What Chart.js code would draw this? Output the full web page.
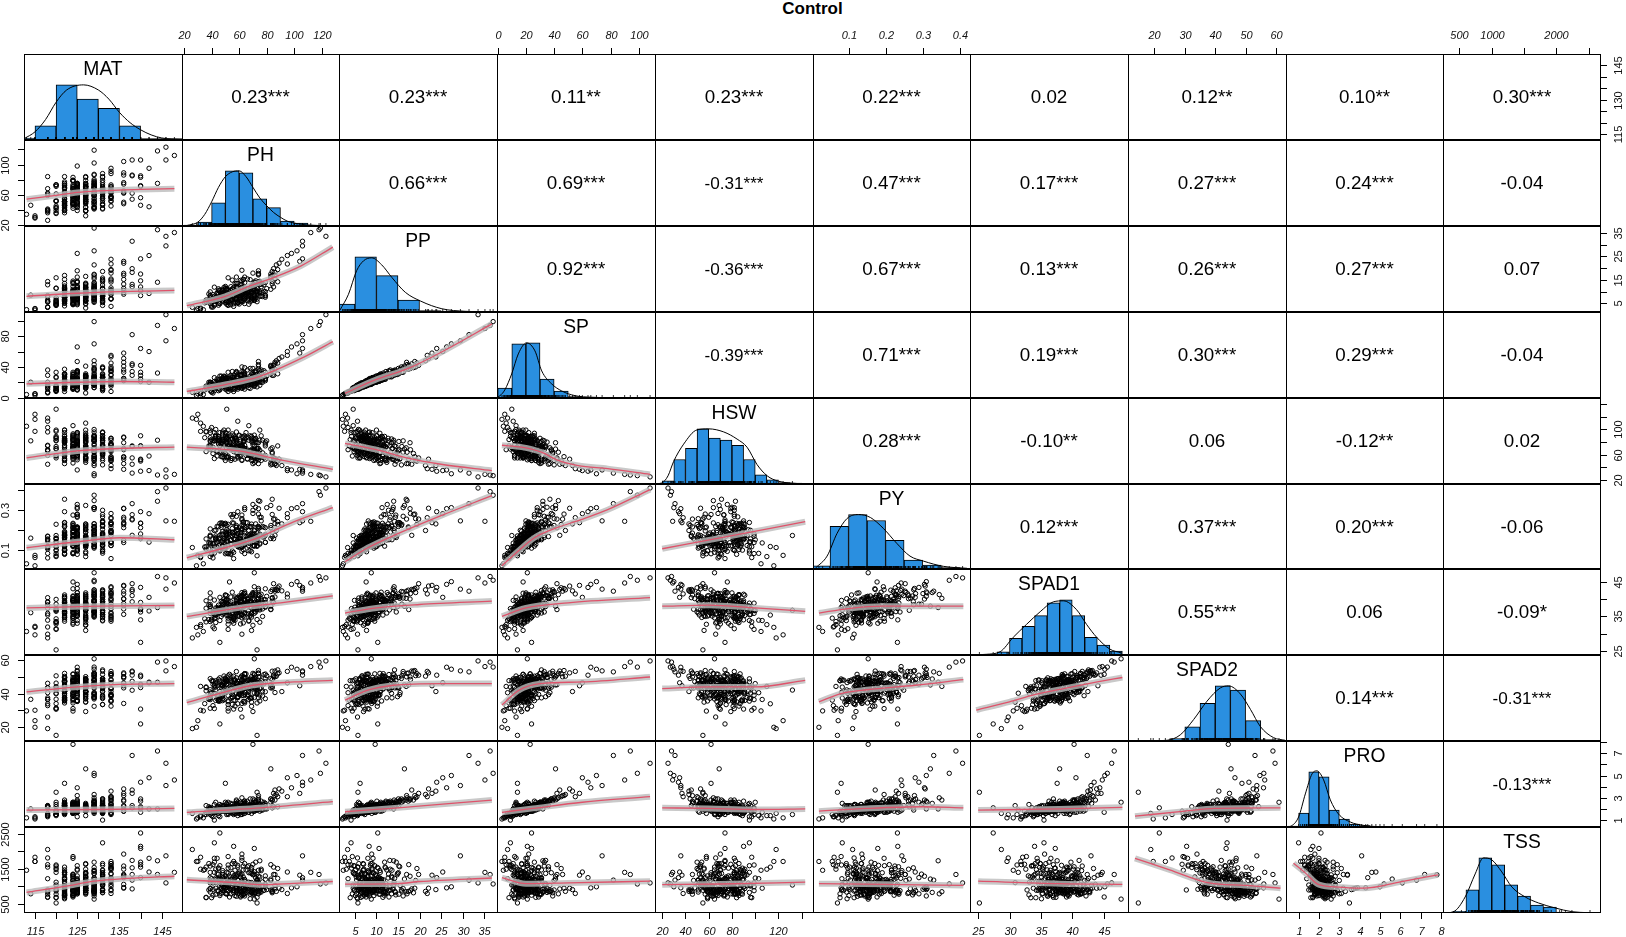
<!DOCTYPE html>
<html>
<head>
<meta charset="utf-8">
<script src="https://cdn.jsdelivr.net/npm/chart.js"></script>
<style>
  body { margin: 0; background: #fff; }
  #wrap { position: relative; width: 1626px; height: 937px; overflow: hidden; font-family: "Liberation Sans", Arial, sans-serif; }
  #title { position: absolute; left: 0; top: 0; width: 1625px; text-align: center; font-weight: bold; font-size: 17px; line-height: 18px; color: #000; }
  canvas { position: absolute; }
</style>
</head>
<body>
<div id="wrap"><div id="title">Control</div></div>
<script>
/* Переменные */
const vars = ['MAT', 'PH', 'PP', 'SP', 'HSW', 'PY', 'SPAD1', 'SPAD2', 'PRO', 'TSS'];

/* Наблюдения (выборка, оценена по облакам точек) */
const SP = [18,24,12,29,21,15,35,19,8,26, 22,41,16,27,31,23,13,20,45,17,
  7,27,19,33,14,24,28,11,58,20, 22,12,32,18,25,15,38,21,29,10,
  23,17,14,48,21,27,16,34,5,24, 19,28,15,74,22,17,26,11,33,20,
  25,16,40,12,21,30,18,24,4,19, 22,15,37,20,23,13,29,17,53,21,
  18,31,12,25,20,14,43,21,24,8, 19,27,20,90,16,30,22,13,36,18,
  24,14,39,22,17,28,32,10,20,99, 23,18,31,15,47,21,26,13,19,34,
  24,6,27,18,37,16,29,22,108,20, 26,11,32,21,15,66,25,19,29,16,
  23,9,35,20,41,14,24,3,21,14, 17,25,28,12,19,22,44,16,27,13,
  21,30,15,24,9,18,26,34,20,60, 14,23,19,27,11,36,17,22,25,18,
  28,16,20,42,13,24,21,82,15,26, 19,33,22,10,29,17,55,23,18,7,
  20,26,13,31,17,23,9,38,22,15, 27,19,34,11,24,18,46,21,16,29,
  12,22,30,17,25,6,20,33,14,64, 23,16,28,19,40,13,21,26,10,35,
  18,24,15,30,21,51,17,27,12,22, 25,14,20,37,19,28,11,23,32,16,
  21,17,29,8,24,19,42,15,26,20, 13,31,22,18,27,70,16,24,20,36,
  24,19,11,28,15,22,33,18,25,5, 17,39,21,14,26,23,19,30,12,94];
const PP = [7.9,10.8,5.6,11.2,9.6,5.8,13.9,8.5,3.9,11.9, 8.6,17.8,7.3,10.4,14.2,9.1,6.1,7.6,19.4,7.5,
  3.4,11.9,7.3,14.6,6.5,9.4,12.8,5.1,22.9,8.9, 9.8,4.6,12.5,8.2,11.4,6.7,15.1,8.0,13.3,4.6,
  10.3,6.6,6.3,21.4,8.6,12.2,6.2,13.1,2.6,10.9, 8.3,10.7,7.0,29.5,9.9,7.7,10.1,4.8,15.2,7.9,
  11.2,6.9,15.8,5.5,9.7,11.6,7.2,10.6,2.3,8.7, 8.4,6.8,16.9,9.0,9.6,5.4,12.9,6.5,23.8,9.3,
  7.4,13.6,5.3,10.0,9.2,5.9,17.1,9.8,9.5,3.7, 8.8,11.5,8.1,35.2,7.4,13.5,8.9,6.0,14.3,8.0,
  9.9,6.4,16.2,10.1,6.9,11.8,14.0,4.4,8.6,37.1, 9.3,7.9,12.4,6.6,18.9,8.3,11.4,5.8,8.4,14.9,
  10.6,3.0,11.0,7.6,15.5,6.8,12.1,9.5,33.6,9.1, 11.1,4.9,13.8,8.7,6.4,26.3,10.2,8.1,12.0,7.1,
  9.7,4.1,14.4,8.5,16.5,6.2,10.3,2.1,8.8,5.7, 7.8,10.4,11.3,5.0,8.0,9.2,18.2,6.6,11.6,5.6,
  9.4,12.7,6.5,10.0,4.2,7.7,11.7,14.1,8.3,25.4, 6.0,9.5,8.6,11.1,5.2,15.4,7.0,9.0,10.5,7.6,
  11.5,7.1,8.7,17.5,5.7,10.2,9.1,31.5,6.3,10.8, 8.2,13.9,9.4,4.8,12.4,7.3,21.8,9.6,7.7,3.3,
  9.5,9.2,6.6,11.0,8.4,8.1,4.8,17.9,7.6,7.2, 13.5,6.4,12.2,5.9,11.8,6.1,17.0,10.3,5.4,14.1,
  6.2,10.9,10.8,8.7,8.5,3.4,9.8,16.2,5.0,24.0, 11.4,5.5,13.6,7.0,19.1,4.6,10.6,9.0,5.2,12.9,
  8.9,8.2,7.6,14.8,7.3,22.1,8.1,13.0,4.4,10.8, 8.8,7.0,7.2,17.4,9.3,9.9,5.6,11.3,11.6,8.0,
  10.4,5.9,10.5,4.1,12.1,6.7,19.8,7.5,9.1,9.9, 4.7,15.2,7.9,9.0,9.6,27.4,7.9,8.4,10.0,13.2,
  11.9,6.6,5.7,10.1,7.4,7.7,15.9,8.8,9.0,2.8, 5.9,18.6,10.2,7.1,9.4,11.2,6.8,14.5,6.1,36.4];
const PH = [60,48,68,62,67,38,72,67,40,42, 73,74,61,54,88,55,54,43,88,52,
  40,71,39,72,64,50,70,46,104,58, 68,42,70,71,50,58,68,42,84,51,
  57,67,43,87,59,50,71,62,32,68, 60,46,63,106,53,68,64,56,63,77,
  51,57,83,36,73,64,47,71,34,62, 60,46,84,38,65,59,61,69,91,47,
  72,57,52,68,44,63,74,62,44,56, 51,73,76,112,44,59,62,39,84,56,
  66,48,64,73,57,49,75,54,51,119, 48,64,69,71,74,56,73,43,61,55,
  62,32,70,51,86,63,54,75,123,48, 55,64,64,64,36,98,73,55,85,58,
  70,42,75,46,83,50,46,29,71,73, 58,52,80,45,63,47,86,55,59,62,
  57,72,43,79,45,69,56,71,39,95, 60,56,68,55,50,66,70,65,48,53,
  68,64,50,83,36,69,61,106,71,51, 47,79,63,46,71,39,95,77,49,26,
  65,48,54,83,48,71,39,70,79,41, 58,69,58,55,62,39,86,73,51,74,
  62,51,70,41,79,41,58,58,59,106, 51,59,74,54,62,67,51,65,35,78,
  59,79,43,61,67,89,39,75,52,51, 62,41,71,74,52,47,59,66,58,75,
  45,61,64,52,76,49,85,49,73,39, 60,63,65,45,49,102,67,54,75,76,
  62,44,57,78,46,69,52,59,59,30, 48,84,61,43,69,45,73,62,51,118];
const HSW = [67,84,59,71,83,74,80,62,84,54, 79,79,70,51,74,72,68,89,50,88,
  103,63,83,50,82,51,82,86,37,72, 61,82,76,68,88,63,66,82,64,132,
  76,59,86,43,74,83,55,74,97,64, 91,63,65,36,80,67,90,65,68,63,
  70,88,44,97,66,75,57,74,105,71, 59,83,71,71,87,69,59,89,43,79,
  85,53,75,90,58,81,64,52,82,74, 78,59,90,29,65,79,70,87,45,77,
  64,93,64,54,86,64,83,71,79,27, 84,68,51,85,57,90,58,100,73,54,
  73,110,51,85,54,88,73,59,25,69, 85,70,70,67,96,36,70,85,52,96,
  62,95,60,82,69,62,74,116,65,55, 82,56,82,82,66,82,45,93,73,66,
  68,86,83,59,89,56,82,57,75,35, 90,69,59,75,95,53,79,95,57,76,
  60,85,91,53,65,81,67,31,83,94, 77,53,80,95,48,81,38,83,55,118,
  63,82,84,47,96,67,69,68,74,62, 85,68,72,69,74,99,46,70,88,52,
  76,87,46,82,80,68,78,82,69,34, 80,63,70,90,51,106,57,70,87,58,
  57,77,89,64,63,53,95,57,58,86, 74,72,91,46,84,64,113,54,72,67,
  85,64,70,99,51,81,55,99,61,74, 71,81,59,77,77,30,87,54,99,56,
  89,66,86,55,74,86,73,55,72,124, 61,62,81,91,59,89,69,73,55,28];
const PY = [.132,.178,.096,.203,.197,.104,.312,.121,.077,.118, .213,.305,.158,.127,.241,.206,.083,.198,.226,.193,
  .082,.155,.204,.161,.137,.108,.297,.101,.235,.122, .164,.098,.326,.118,.232,.124,.216,.196,.188,.171,
  .185,.095,.154,.196,.181,.189,.12,.249,.061,.13, .209,.172,.137,.244,.186,.143,.202,.087,.225,.164,
  .185,.13,.221,.115,.162,.19,.138,.179,.03,.115, .159,.125,.352,.135,.21,.116,.15,.173,.229,.212,
  .163,.15,.118,.213,.138,.101,.345,.114,.217,.056, .18,.156,.244,.242,.114,.29,.136,.132,.166,.179,
  .164,.121,.31,.117,.171,.153,.342,.077,.176,.372, .232,.123,.216,.122,.278,.233,.134,.15,.143,.234,
  .185,.066,.175,.148,.23,.123,.275,.133,.408,.118, .264,.081,.301,.134,.154,.305,.154,.185,.155,.197,
  .153,.083,.262,.158,.321,.08,.232,.02,.153,.07, .17,.139,.31,.097,.135,.223,.172,.171,.199,.115,
  .153,.229,.16,.137,.098,.09,.276,.194,.168,.28, .155,.156,.156,.188,.115,.235,.12,.236,.147,.177,
  .178,.126,.228,.21,.103,.165,.186,.33,.141,.2, .178,.171,.239,.094,.149,.173,.26,.216,.105,.111,
  .149,.191,.147,.156,.14,.195,.066,.281,.137,.131, .221,.158,.211,.094,.223,.167,.253,.151,.158,.206,
  .092,.22,.183,.128,.21,.059,.135,.267,.121,.29, .172,.141,.216,.15,.255,.134,.142,.152,.114,.213,
  .133,.176,.157,.173,.175,.307,.139,.21,.08,.184, .204,.101,.156,.214,.162,.234,.116,.153,.213,.128,
  .156,.14,.213,.081,.169,.156,.253,.136,.184,.128, .112,.236,.166,.121,.228,.31,.17,.129,.178,.262,
  .198,.148,.133,.164,.099,.228,.227,.129,.181,.072, .119,.276,.149,.169,.148,.215,.121,.273,.083,.39];
const MAT = [124,129,122,127,133,118,125,131,122,129, 125,136,120,127,131,124,122,129,133,124,
  118,127,125,140,122,129,131,122,136,124, 127,120,125,129,136,122,131,124,127,120,
  133,125,120,129,131,124,127,138,115,125, 129,122,133,146,127,118,131,124,136,122,
  129,125,131,120,127,133,124,140,113,129, 125,131,122,127,136,124,118,129,133,125,
  122,127,131,124,142,125,129,122,127,133, 125,120,131,148,129,122,136,127,118,125,
  131,124,129,122,133,127,144,125,122,129, 124,131,122,127,125,140,120,129,124,133,
  125,127,131,122,129,124,138,125,146,127, 131,124,129,133,118,125,127,122,140,129,
  124,131,125,114,127,122,140,115,129,120, 127,133,129,122,124,131,138,125,127,118,
  124,129,122,131,120,127,125,133,118,142, 122,127,124,129,125,133,127,131,136,124,
  131,125,127,140,122,129,124,138,120,127, 129,124,131,125,127,122,133,129,125,118,
  127,122,129,124,131,125,120,133,127,122, 124,129,125,131,122,127,136,124,129,125,
  131,127,122,129,124,118,133,125,127,140, 122,125,129,127,133,124,122,131,120,129,
  129,124,127,131,125,136,122,127,124,133, 125,131,124,129,127,122,118,131,125,127,
  124,127,133,120,129,125,138,122,131,127, 127,122,125,133,124,129,131,127,122,136,
  129,125,131,124,122,127,120,129,125,115, 124,131,127,125,129,122,133,124,127,144];
const SPAD1 = [37.5,39.2,35.1,40.8,33.6,38.4,41.9,36.7,34.2,39.8, 38.9,40.1,32.8,37.1,42.6,36.0,38.1,35.5,43.4,39.6,
  33.9,37.8,40.4,36.3,34.8,41.3,38.6,36.9,44.1,35.7, 39.0,31.4,42.0,37.4,38.2,36.1,40.9,34.4,39.5,36.8,
  37.9,40.2,33.2,42.8,38.3,39.7,35.9,41.1,32.1,37.6, 36.4,40.6,38.7,43.0,35.3,39.3,38.0,34.6,41.6,37.2,
  39.9,36.5,42.3,33.4,38.5,40.0,35.0,37.3,30.6,39.4, 41.0,36.2,40.3,34.1,38.8,37.0,39.1,35.8,42.5,37.7,
  38.2,40.7,33.7,39.6,36.6,38.0,41.4,35.4,37.5,34.5, 39.8,37.0,41.5,44.8,36.3,38.6,35.6,37.8,40.5,33.0,
  39.2,36.9,42.2,38.4,34.9,40.1,37.6,35.2,39.0,45.6, 37.3,41.8,36.0,38.9,43.2,34.0,40.0,36.7,39.5,37.9,
  36.4,32.6,41.2,38.1,40.7,35.1,39.3,37.2,46.3,38.6, 36.8,39.7,41.7,35.8,37.4,44.4,38.3,33.6,39.1,37.0,
  40.3,35.5,41.1,36.1,38.0,37.6,27.4,31.8,47.8,25.2, 38.6,35.2,40.9,37.7,33.1,39.4,42.9,36.2,38.8,29.8,
  36.9,41.4,34.7,39.9,37.3,30.9,38.4,43.7,35.9,40.6, 39.1,34.3,37.8,42.1,36.6,40.3,32.4,38.9,37.2,45.1,
  35.4,38.7,41.2,37.0,39.6,34.8,40.8,42.4,36.5,38.1, 37.6,43.1,36.3,33.8,40.2,38.5,41.6,35.0,39.3,28.7,
  38.3,36.4,40.7,37.1,35.6,39.8,33.5,41.7,37.9,36.0, 40.1,37.4,38.8,34.9,39.3,36.7,42.4,38.1,35.3,39.0,
  34.6,38.9,41.3,36.2,37.7,31.9,39.6,40.4,36.8,43.5, 37.0,35.1,39.4,38.6,42.0,33.8,36.5,40.9,34.3,38.4,
  36.6,39.1,37.5,40.6,35.8,43.9,38.0,36.9,32.7,41.1, 39.5,36.3,38.2,42.7,34.5,37.8,35.4,40.0,38.7,33.3,
  37.3,40.4,36.1,31.2,39.7,38.5,44.6,35.9,37.6,41.9, 35.0,40.8,38.4,37.2,36.4,45.2,39.3,34.7,38.9,40.2,
  38.1,35.7,33.9,39.9,37.4,41.4,38.6,36.3,40.5,29.6, 36.2,42.8,37.7,35.3,39.2,38.3,34.1,41.0,36.9,46.7];
const SPAD2 = [44.7,39.3,46.6,44.7,43.2,36.5,49.7,39.0,47.8,44.8, 40.0,50.1,30.5,43.4,54.3,39.4,37.3,43.9,52.0,35.6,
  40.5,49.0,42.3,45.7,34.3,48.2,48.7,41.2,44.7,44.1, 37.1,40.2,48.8,37.6,49.4,49.5,43.8,30.9,48.5,42.1,
  48.1,42.2,39.9,50.5,37.5,46.7,48.3,42.0,29.9,48.8, 39.7,49.5,38.8,53.7,41.8,37.4,46.2,48.1,43.4,41.5,
  47.9,35.8,49.1,44.0,39.6,52.0,38.5,43.6,29.5,48.4, 40.9,47.6,44.3,36.7,51.9,38.3,46.2,45.2,41.2,43.9,
  47.4,43.6,33.3,47.6,46.9,35.2,52.2,39.8,44.7,36.0, 45.8,46.3,43.3,56.3,36.7,45.7,34.0,49.0,43.4,41.7,
  38.3,45.2,52.0,41.5,32.4,46.1,46.8,47.7,41.1,56.0, 44.6,51.6,37.4,47.0,53.9,30.6,44.0,46.0,45.5,38.1,
  38.7,44.3,44.1,47.3,40.6,42.6,47.4,35.5,59.7,44.7, 47.1,40.7,49.5,35.2,43.6,55.9,40.5,41.2,50.2,40.3,
  44.3,43.9,50.0,36.5,45.2,48.8,21.6,19.6,61.0,14.7, 46.7,38.7,50.8,35.9,42.8,45.4,53.6,37.6,45.9,25.8,
  48.2,43.2,42.2,48.9,36.6,34.8,50.5,51.3,36.3,46.5, 40.2,44.8,44.0,44.9,48.9,39.3,29.1,47.0,46.5,51.6,
  42.8,49.8,41.1,45.3,41.6,32.3,49.7,53.1,42.8,41.3, 39.8,51.8,46.6,35.4,47.2,37.6,53.4,38.5,47.4,18.8,
  46.5,35.7,50.6,43.4,37.0,51.8,31.1,48.5,41.1,47.4, 40.1,46.6,45.9,33.4,50.4,41.0,50.1,34.3,45.8,46.1,
  41.1,41.0,52.2,45.6,36.9,32.7,46.6,53.3,38.1,51.1, 47.3,42.6,37.4,44.7,50.8,36.4,47.8,43.8,33.9,51.5,
  37.9,47.2,47.7,43.5,48.2,52.5,37.2,43.2,29.4,43.0, 46.5,47.7,40.4,52.4,35.0,45.0,33.8,48.0,42.8,43.0,
  48.6,41.3,39.5,31.1,47.7,50.6,51.1,36.3,46.8,38.7, 39.5,49.7,49.5,35.5,43.7,54.7,41.4,48.2,39.0,46.2,
  46.3,39.1,44.5,45.9,36.6,50.2,50.7,37.7,47.4,23.6, 38.6,53.5,43.9,35.8,48.3,35.5,42.7,47.9,48.2,59.0];
const PRO = [2.1,1.8,2.3,2.0,1.7,2.2,2.6,1.9,1.6,2.4, 2.0,2.8,1.5,2.1,2.2,1.8,2.5,1.9,3.1,2.0,
  1.4,2.3,1.7,2.7,2.1,1.8,2.4,2.0,3.4,1.6, 2.2,1.9,2.5,1.8,2.0,2.3,2.9,1.7,2.1,1.5,
  2.0,2.2,1.8,3.3,1.9,2.6,2.0,2.3,1.3,2.1, 1.8,2.4,1.6,4.1,2.0,2.2,2.7,1.9,2.3,2.0,
  1.8,2.1,2.9,1.7,2.2,2.5,1.9,2.0,1.2,2.3, 2.1,1.7,2.8,2.0,1.8,2.4,2.2,1.6,3.6,2.0,
  1.9,2.5,1.8,2.1,2.0,2.3,3.0,1.7,2.2,1.5, 2.0,2.4,1.9,4.6,2.1,2.6,1.8,2.0,2.3,1.7,
  2.1,1.9,2.7,2.4,1.6,2.2,2.0,1.8,2.5,5.2, 2.0,1.8,2.3,2.1,3.2,1.7,2.2,2.6,1.9,2.4,
  2.0,1.4,2.3,2.1,2.8,1.8,2.1,2.4,6.1,2.0, 2.2,1.6,2.5,2.0,2.3,3.9,1.9,2.1,2.2,1.8,
  7.8,1.0,2.4,2.0,5.6,4.3,2.1,1.1,2.6,3.5, 1.9,2.2,2.0,1.6,2.4,1.8,3.7,2.1,2.3,1.5,
  2.2,2.6,1.7,2.0,1.4,2.3,1.9,2.8,2.1,4.8, 1.6,2.1,2.4,1.9,2.0,2.7,1.8,2.5,2.2,1.7,
  2.3,1.9,2.0,2.9,1.5,2.2,2.1,6.8,1.8,2.4, 2.0,2.5,1.8,1.3,2.2,2.0,3.1,1.9,2.3,1.6,
  2.0,2.3,1.7,2.6,1.9,2.2,1.5,2.9,2.1,1.8, 2.4,1.9,2.7,1.6,2.2,2.0,3.2,2.1,1.8,2.5,
  1.7,2.2,2.5,1.9,2.3,1.3,2.0,2.8,1.8,4.4, 2.1,1.8,2.4,2.0,3.0,1.7,2.2,2.3,1.5,2.6,
  1.9,2.3,1.8,2.6,2.0,3.8,2.1,2.4,1.6,2.2, 2.2,1.7,2.0,2.7,1.9,2.3,1.4,2.1,2.5,1.8,
  2.0,1.9,2.4,1.5,2.2,2.0,3.4,1.8,2.3,2.1, 1.8,2.6,2.1,1.9,2.3,5.0,2.0,2.2,2.1,2.7,
  2.3,1.8,1.6,2.4,1.9,2.1,2.6,2.0,2.2,1.2, 1.9,2.8,2.1,1.7,2.3,2.2,1.9,2.5,1.8,7.2];
const TSS = [870,1450,650,1120,1590,900,940,1390,680,1690, 1030,1290,900,1190,1230,1080,920,1190,1510,1020,
  1220,830,1160,1690,920,1050,1350,740,1320,970, 1020,1400,830,1420,1060,720,1390,1800,900,1040,
  1240,840,1120,860,1600,800,1030,1740,1830,860, 940,1020,1470,1870,940,780,1200,890,1580,1020,
  1110,1460,900,680,1200,1190,950,2080,1460,870, 880,1200,850,1650,970,1180,700,1370,910,1060,
  820,1250,1270,1000,1800,970,790,1350,870,1710, 1100,690,1450,1400,1360,790,1920,940,860,1300,
  1090,1330,730,1100,1650,940,1730,790,1210,1070, 890,1050,1470,810,950,2140,930,1240,730,1370,
  1070,1490,900,1020,1030,1270,1530,920,1100,890, 1210,900,920,1650,690,960,1120,1150,1550,1010,
  1330,2240,830,790,1210,960,2520,1710,640,530, 890,1520,910,1350,760,1200,930,1020,1060,1810,
  740,1240,950,1300,1520,1110,820,1060,840,1410, 1410,890,1100,970,1040,1560,1630,830,1250,700,
  1050,790,1300,1620,1550,1540,840,1180,780,1090, 940,1040,880,1590,960,1250,800,1130,1180,2050,
  880,1390,900,1170,1040,920,1580,880,1200,750, 1290,840,1080,1650,750,1100,1340,1170,800,1120,
  1100,1400,780,1100,970,1620,1000,940,1350,1250, 980,890,1460,980,1170,950,780,1470,1480,890,
  1070,1060,780,1330,990,950,1400,980,1850,1240, 1110,920,1350,860,1380,810,1550,1020,850,1270,
  880,1270,1140,1610,840,980,1340,990,1170,940, 1370,780,980,1520,880,990,1120,1150,880,1490,
  870,1220,1320,890,1230,820,870,1190,1180,1710, 1240,820,1020,1490,850,1200,1350,760,1060,1340];
const cols = [MAT, PH, PP, SP, HSW, PY, SPAD1, SPAD2, PRO, TSS];

/* Пределы осей и деления */
const axisMin = [112.4, 18.5, 1.3, -0.5, 13.8, 0.004, 23.7, 11.3, 0.38, 245];
const axisMax = [149.8, 132.5, 38, 111.5, 149.7, 0.428, 48.9, 63.3, 8.1, 2690];
const tickVals = [[115,120,125,130,135,140,145], [20,40,60,80,100,120], [5,10,15,20,25,30,35], [0,20,40,60,80,100],
  [20,40,60,80,100,120,140], [0.1,0.2,0.3,0.4], [25,30,35,40,45], [20,30,40,50,60], [1,2,3,4,5,6,7,8], [500,1000,1500,2000,2500]];
const labelsH = [[115,125,135,145], [20,40,60,80,100,120], [5,10,15,20,25,30,35], [0,20,40,60,80,100],
  [20,40,60,80,120], [0.1,0.2,0.3,0.4], [25,30,35,40,45], [20,30,40,50,60], [1,2,3,4,5,6,7,8], [500,1000,2000]];
const labelsV = [[115,130,145], [20,60,100], [5,15,25,35], [0,40,80], [20,60,100], [0.1,0.3], [25,35,45], [20,40,60], [1,3,5,7], [500,1500,2500]];

/* Коэффициенты корреляции (верхний треугольник) */
const corrRows = [
  ['0.23***','0.23***','0.11**','0.23***','0.22***','0.02','0.12**','0.10**','0.30***'],
  ['0.66***','0.69***','-0.31***','0.47***','0.17***','0.27***','0.24***','-0.04'],
  ['0.92***','-0.36***','0.67***','0.13***','0.26***','0.27***','0.07'],
  ['-0.39***','0.71***','0.19***','0.30***','0.29***','-0.04'],
  ['0.28***','-0.10**','0.06','-0.12**','0.02'],
  ['0.12***','0.37***','0.20***','-0.06'],
  ['0.55***','0.06','-0.09*'],
  ['0.14***','-0.31***'],
  ['-0.13***']
];

/* Гистограммы: границы и высоты столбцов */
const MAT_breaks = [110,115,120,125,130,135,140,145,150];
const MAT_hist = [2,14,54,40,31,14,1.5,1.5];
const PH_breaks = [20,30,40,50,60,70,80,90,100,110,120];
const PH_hist = [1,4,24,57,55,28,19,5,3,1];
const PP_breaks = [0,5,10,15,20,25,30,35,40];
const PP_hist = [8,56,37,12,1.5,1,0.5,0.3];
const SP_breaks = [0,10,20,30,40,50,60,70,80,90,100,110];
const SP_hist = [10,54,55,19,7,1.5,1,0.7,0.5,0.4,0.3];
const HSW_breaks = [10,20,30,40,50,60,70,80,90,100,110,120,130,140,150];
const HSW_hist = [0.5,3,24,35,54,45,43,38,24,9,4,1.5,1,0.5];
const PY_breaks = [0,0.05,0.1,0.15,0.2,0.25,0.3,0.35,0.4,0.45];
const PY_hist = [3.3,43,55,49,29,9,4,1.5,0.7];
const SPAD1_breaks = [24,26,28,30,32,34,36,38,40,42,44,46,48];
const SPAD1_hist = [0.3,0.5,3.3,17,29,40,53,56,40,18,10,4];
const SPAD2_breaks = [10,15,20,25,30,35,40,45,50,55,60,65];
const SPAD2_hist = [0.4,0.4,0.4,2.3,14,37,54,50,20,1.3,0.3];
const PRO_breaks = [0.5,1,1.5,2,2.5,3,3.5,4,4.5,5,5.5,6,6.5,7,7.5,8];
const PRO_hist = [1,14,55,50,17,8,3,1.5,0.7,0.4,0.3,0.2,0.2,0.2,0.2];
const TSS_breaks = [400,600,800,1000,1200,1400,1600,1800,2000,2200,2400,2600];
const TSS_hist = [1.7,23,55,48,28,17,8,6,1,0.5,0.3];
const histBreaks = [MAT_breaks, PH_breaks, PP_breaks, SP_breaks, HSW_breaks, PY_breaks, SPAD1_breaks, SPAD2_breaks, PRO_breaks, TSS_breaks];
const histHeights = [MAT_hist, PH_hist, PP_hist, SP_hist, HSW_hist, PY_hist, SPAD1_hist, SPAD2_hist, PRO_hist, TSS_hist];

/* Кривые плотности */
const MAT_dens = [[112.5,1.5],[115,8],[117.5,20],[120,37],[122.5,49],[126.5,54],[130,49],[132.5,40],[135,27],[137.5,17],[140,10],[142.5,5],[145,2],[149.8,0.3]];
const PH_dens = [[22,0.5],[30,4],[35,12],[40,25],[45,40],[50,51],[55,56],[60,57],[65,51],[70,40],[75,29],[80,21],[85,14],[90,9],[95,5],[100,3],[110,1],[125,0.2]];
const PP_dens = [[1.5,1.7],[3.5,18],[5.4,42],[7,52],[8.9,55],[11.2,48],[13.6,35],[16.7,20],[20.3,11],[25.2,3.3],[30.6,0.7],[37,0.1]];
const SP_dens = [[0,1],[1.6,2.3],[5,8],[9.9,24],[14.6,44],[20.5,55],[26.4,47],[31.2,27],[38.3,14],[45.4,7],[54.9,2.3],[66.8,0.7],[90,0.1]];
const HSW_dens = [[15,0.3],[19.7,1],[25,8],[29.8,22],[38.4,39],[49.9,53],[60,54],[72.9,51],[84.4,44],[93,36],[101.6,19],[110.3,8],[120,2.7],[138,0.3]];
const PY_dens = [[0.011,1],[0.042,13],[0.069,36],[0.096,51],[0.127,55],[0.159,52],[0.194,41],[0.23,26],[0.266,13],[0.302,8],[0.356,2.7],[0.42,0.7]];
const SPAD1_dens = [[24,0.1],[26.3,0.7],[28.5,3.3],[30.6,18],[32.7,31],[34.9,44],[37,54],[38.6,55],[40.7,46],[42.3,31],[43.9,18],[46,6],[47.9,2]];
const SPAD2_dens = [[12,0.2],[20,0.3],[24.1,0.7],[28.5,6],[32.9,21],[37.3,39],[41.7,52],[44.4,54],[48.3,46],[51.6,31],[54.9,14],[59.2,3.3],[63,0.7]];
const PRO_dens = [[0.4,0],[0.6,0.7],[1.0,10],[1.33,33],[1.66,53],[1.9,56],[2.23,47],[2.56,27],[2.96,13],[3.54,5],[4.17,1.7],[5.1,0.3],[8,0]];
const TSS_dens = [[250,0],[407,1.3],[588,16],[743,39],[871,55],[1000,53],[1155,41],[1310,26],[1517,16],[1723,10],[1982,5],[2240,1.3],[2500,0.3]];
const densLines = [MAT_dens, PH_dens, PP_dens, SP_dens, HSW_dens, PY_dens, SPAD1_dens, SPAD2_dens, PRO_dens, TSS_dens];

/* Сглаживание (loess), по строкам: для каждого столбца слева от диагонали */
const loPH = [
  [[113,54],[120,59],[125,63],[130,65],[140,67],[148,68]]
];
const loPP = [
  [[113,8],[125,9.3],[135,10],[148,10.5]],
  [[22,4],[50,8],[66,12],[85,16],[105,21],[128,29]]
];
const loSP = [
  [[113,18],[125,20],[135,21],[148,20]],
  [[22,8],[50,17],[74,27],[105,51],[128,73]],
  [[2.7,5.6],[9.7,23],[17.4,38],[26,62],[36.8,96]]
];
const loHSW = [
  [[113,55],[125,66],[135,70],[148,72]],
  [[22,72],[60,66],[90,52],[128,37]],
  [[2.7,78],[10,68],[17,55],[25,45],[36.8,35]],
  [[3,75],[17,72],[31,64],[43,51],[57,43],[78,38],[108,29]]
];
const loPY = [
  [[113,0.11],[125,0.14],[135,0.16],[148,0.15]],
  [[22,0.06],[50,0.11],[70,0.15],[100,0.24],[128,0.31]],
  [[2.7,0.04],[8,0.11],[15,0.18],[25,0.27],[36.8,0.37]],
  [[3,0.02],[14,0.09],[26,0.16],[42,0.21],[59,0.25],[78,0.30],[108,0.40]],
  [[20,0.105],[80,0.17],[143,0.24]]
];
const loSPAD1 = [
  [[113,37.5],[130,38],[148,38.2]],
  [[22,35],[60,37.5],[90,39],[128,41]],
  [[2.7,36],[10,37.5],[20,38.5],[36.8,39.5]],
  [[3,35],[20,37.5],[50,39],[108,40.5]],
  [[20,38],[60,38.3],[100,37.5],[143,36.5]],
  [[0.02,36],[0.1,37.3],[0.19,38],[0.41,38]]
];
const loSPAD2 = [
  [[113,41],[125,44],[135,45.5],[148,46]],
  [[22,34.5],[50,41],[70,45],[100,47],[128,48]],
  [[2.7,36],[8,42],[14,45],[25,46],[36.8,46]],
  [[3,33],[15,42],[30,46],[60,47],[108,50]],
  [[20,43],[60,44],[100,44],[143,48]],
  [[0.02,35],[0.08,40],[0.15,42.3],[0.28,45],[0.41,48.4]],
  [[24.7,30],[30,35],[34,39.3],[39,43.3],[44,47],[48,49.7]]
];
const loPRO = [
  [[113,1.9],[130,1.95],[148,2.05]],
  [[22,1.7],[75,2.1],[128,2.65]],
  [[2.7,1.75],[15,2.1],[36.8,2.8]],
  [[3,1.7],[25,2.05],[60,2.6],[108,3.1]],
  [[20,2.1],[60,2.05],[100,1.95],[143,2.0]],
  [[0.02,1.8],[0.15,2.05],[0.3,2.2],[0.41,2.1]],
  [[25,1.9],[38,2.0],[48,2.15]],
  [[13.6,1.35],[30,1.8],[40,2.05],[61.5,2.1]]
];
const loTSS = [
  [[113,830],[122,1000],[129,1150],[137,1230],[148,1290]],
  [[22,1190],[60,1100],[75,1050],[100,1090],[128,1140]],
  [[2.7,1065],[15,1080],[20,1140],[36.8,1240]],
  [[3,1250],[20,1080],[50,1100],[108,1150]],
  [[20,1050],[70,1070],[143,1120]],
  [[0.02,1080],[0.2,1060],[0.41,1030]],
  [[25,1150],[38,1080],[48,1060]],
  [[13.6,1800],[25,1470],[38,1100],[50,1030],[61.5,950]],
  [[0.75,1660],[1.3,1400],[2,1050],[3,980],[4.2,950],[6,1130],[7.85,1330]]
];
const smoothRows = [null, loPH, loPP, loSP, loHSW, loPY, loSPAD1, loSPAD2, loPRO, loTSS];

const FONT = '"Liberation Sans", Arial, sans-serif';
const histColor = '#2A8FE0';
const loessColor = '#DF536B';

/* Сетка панелей */
const wrap = document.getElementById('wrap');
const X = [], Y = [];
for (let k = 0; k <= 10; k++) {
  X.push(Math.round(24 + k * 157.7));
  Y.push(Math.round(54 + k * 85.9));
}

function toXY(pairs) {
  return pairs.map(p => ({ x: p[0], y: p[1] }));
}

// рамка, оси, подписи
const panelPlugin = {
  id: 'panel',
  afterDraw(chart, args, o) {
    const ctx = chart.ctx, a = chart.chartArea;
    const r = o.r, c = o.c, side = o.side;
    ctx.save();
    ctx.strokeStyle = '#000';
    ctx.lineWidth = 1;
    ctx.beginPath();
    ctx.moveTo(a.left, a.top + 0.5); ctx.lineTo(a.right, a.top + 0.5);
    ctx.moveTo(a.left, a.bottom - 0.5); ctx.lineTo(a.right, a.bottom - 0.5);
    ctx.moveTo(a.left + 0.5, a.top); ctx.lineTo(a.left + 0.5, a.bottom);
    if (c === 9) { ctx.moveTo(a.right - 0.5, a.top); ctx.lineTo(a.right - 0.5, a.bottom); }
    ctx.stroke();

    ctx.fillStyle = '#111';
    if (side.top || side.bottom) {
      const xs = chart.scales.x;
      const y0 = side.top ? a.top : a.bottom;
      const dir = side.top ? -1 : 1;
      ctx.font = 'italic 11px ' + FONT;
      ctx.textAlign = 'center';
      ctx.textBaseline = 'middle';
      tickVals[c].forEach(v => {
        const px = Math.round(xs.getPixelForValue(v)) + 0.5;
        ctx.beginPath(); ctx.moveTo(px, y0); ctx.lineTo(px, y0 + dir * 6); ctx.stroke();
        if (labelsH[c].includes(v)) ctx.fillText(String(v), px, y0 + dir * (side.top ? 18 : 19));
      });
    }
    if (side.left || side.right) {
      const ys = chart.scales.y;
      const x0 = side.left ? a.left : a.right;
      const dir = side.left ? -1 : 1;
      ctx.font = '11px ' + FONT;
      ctx.textAlign = 'center';
      ctx.textBaseline = 'middle';
      tickVals[r].forEach(v => {
        const py = Math.round(ys.getPixelForValue(v)) + 0.5;
        ctx.beginPath(); ctx.moveTo(x0, py); ctx.lineTo(x0 + dir * 6, py); ctx.stroke();
        if (labelsV[r].includes(v)) {
          ctx.save();
          ctx.translate(x0 + dir * 18, py);
          ctx.rotate(-Math.PI / 2);
          ctx.fillText(String(v), 0, 0);
          ctx.restore();
        }
      });
    }

    ctx.fillStyle = '#000';
    ctx.textAlign = 'center';
    ctx.textBaseline = 'middle';
    const cx = (a.left + a.right) / 2;
    if (r === c) {
      ctx.font = '19.3px ' + FONT;
      ctx.fillText(vars[r], cx, a.top + 16);
    } else if (r < c) {
      const t = corrRows[r][c - r - 1];
      let fs = 18.8;
      ctx.font = fs + 'px ' + FONT;
      const wd = ctx.measureText(t).width;
      if (wd > 59) { fs = fs * 59 / wd; ctx.font = fs + 'px ' + FONT; }
      ctx.fillText(t, cx, (a.top + a.bottom) / 2 + 1);
    }
    ctx.restore();
  }
};

for (let r = 0; r < 10; r++) {
  for (let c = 0; c < 10; c++) {
    const side = {
      top: r === 0 && c % 2 === 1,
      bottom: r === 9 && c % 2 === 0,
      left: c === 0 && r % 2 === 1,
      right: c === 9 && r % 2 === 0
    };
    // место под подписи осей за пределами панели
    const horiz = side.top || side.bottom, vert = side.left || side.right;
    const pad = {
      top: side.top ? 30 : (vert ? 10 : 0),
      bottom: side.bottom ? 24 : (vert ? 10 : 0),
      left: side.left ? 24 : (horiz ? 12 : 0),
      right: side.right ? 25 : (horiz ? 12 : 0)
    };
    const w = X[c + 1] - X[c], h = Y[r + 1] - Y[r];
    const cw = w + pad.left + pad.right, ch = h + pad.top + pad.bottom;
    const cv = document.createElement('canvas');
    cv.width = cw; cv.height = ch;
    cv.style.left = (X[c] - pad.left) + 'px';
    cv.style.top = (Y[r] - pad.top) + 'px';
    cv.style.width = cw + 'px';
    cv.style.height = ch + 'px';
    wrap.appendChild(cv);

    let type = 'scatter', datasets = [];
    let yMin = axisMin[r], yMax = axisMax[r];

    if (r === c) {
      type = 'bar';
      const br = histBreaks[r], hh = histHeights[r];
      yMin = 0;
      yMax = 1.56 * Math.max(...hh);
      datasets = [
        { type: 'line', data: toXY(densLines[r]), borderColor: '#000', borderWidth: 1, pointRadius: 0, cubicInterpolationMode: 'monotone' },
        { type: 'scatter', data: cols[r].map(v => ({ x: v, y: 0 })), pointStyle: 'line', rotation: 90, pointRadius: 3,
          borderColor: '#000', borderWidth: 0.8, clip: 0 },
        { type: 'bar', data: hh.map((v, k) => ({ x: (br[k] + br[k + 1]) / 2, y: v })), backgroundColor: histColor,
          borderColor: '#000', borderWidth: 1, borderSkipped: false, barPercentage: 1, categoryPercentage: 1, grouped: false }
      ];
    } else if (r > c) {
      const lo = toXY(smoothRows[r][c]);
      datasets = [
        { type: 'line', data: lo, borderColor: loessColor, borderWidth: 1.3, pointRadius: 0, cubicInterpolationMode: 'monotone' },
        { type: 'line', data: lo, borderColor: 'rgba(188,188,188,0.8)', borderWidth: 6, pointRadius: 0, cubicInterpolationMode: 'monotone' },
        { type: 'scatter', data: cols[c].map((v, k) => ({ x: v, y: cols[r][k] })), pointStyle: 'circle', pointRadius: 2.2,
          borderColor: '#000', backgroundColor: 'rgba(0,0,0,0)', borderWidth: 1 }
      ];
    }

    new Chart(cv.getContext('2d'), {
      type: type,
      data: { datasets: datasets },
      options: {
        responsive: false,
        maintainAspectRatio: false,
        animation: false,
        events: [],
        layout: { padding: pad, autoPadding: false },
        plugins: {
          legend: { display: false },
          tooltip: { enabled: false },
          panel: { r: r, c: c, side: side }
        },
        scales: {
          x: {
            type: 'linear', display: false, offset: false, min: axisMin[c], max: axisMax[c],
            afterBuildTicks: s => { s.ticks = tickVals[c].map(v => ({ value: v })); }
          },
          y: { type: 'linear', display: false, min: yMin, max: yMax }
        }
      },
      plugins: [panelPlugin]
    });
  }
}
</script>
</body>
</html>
